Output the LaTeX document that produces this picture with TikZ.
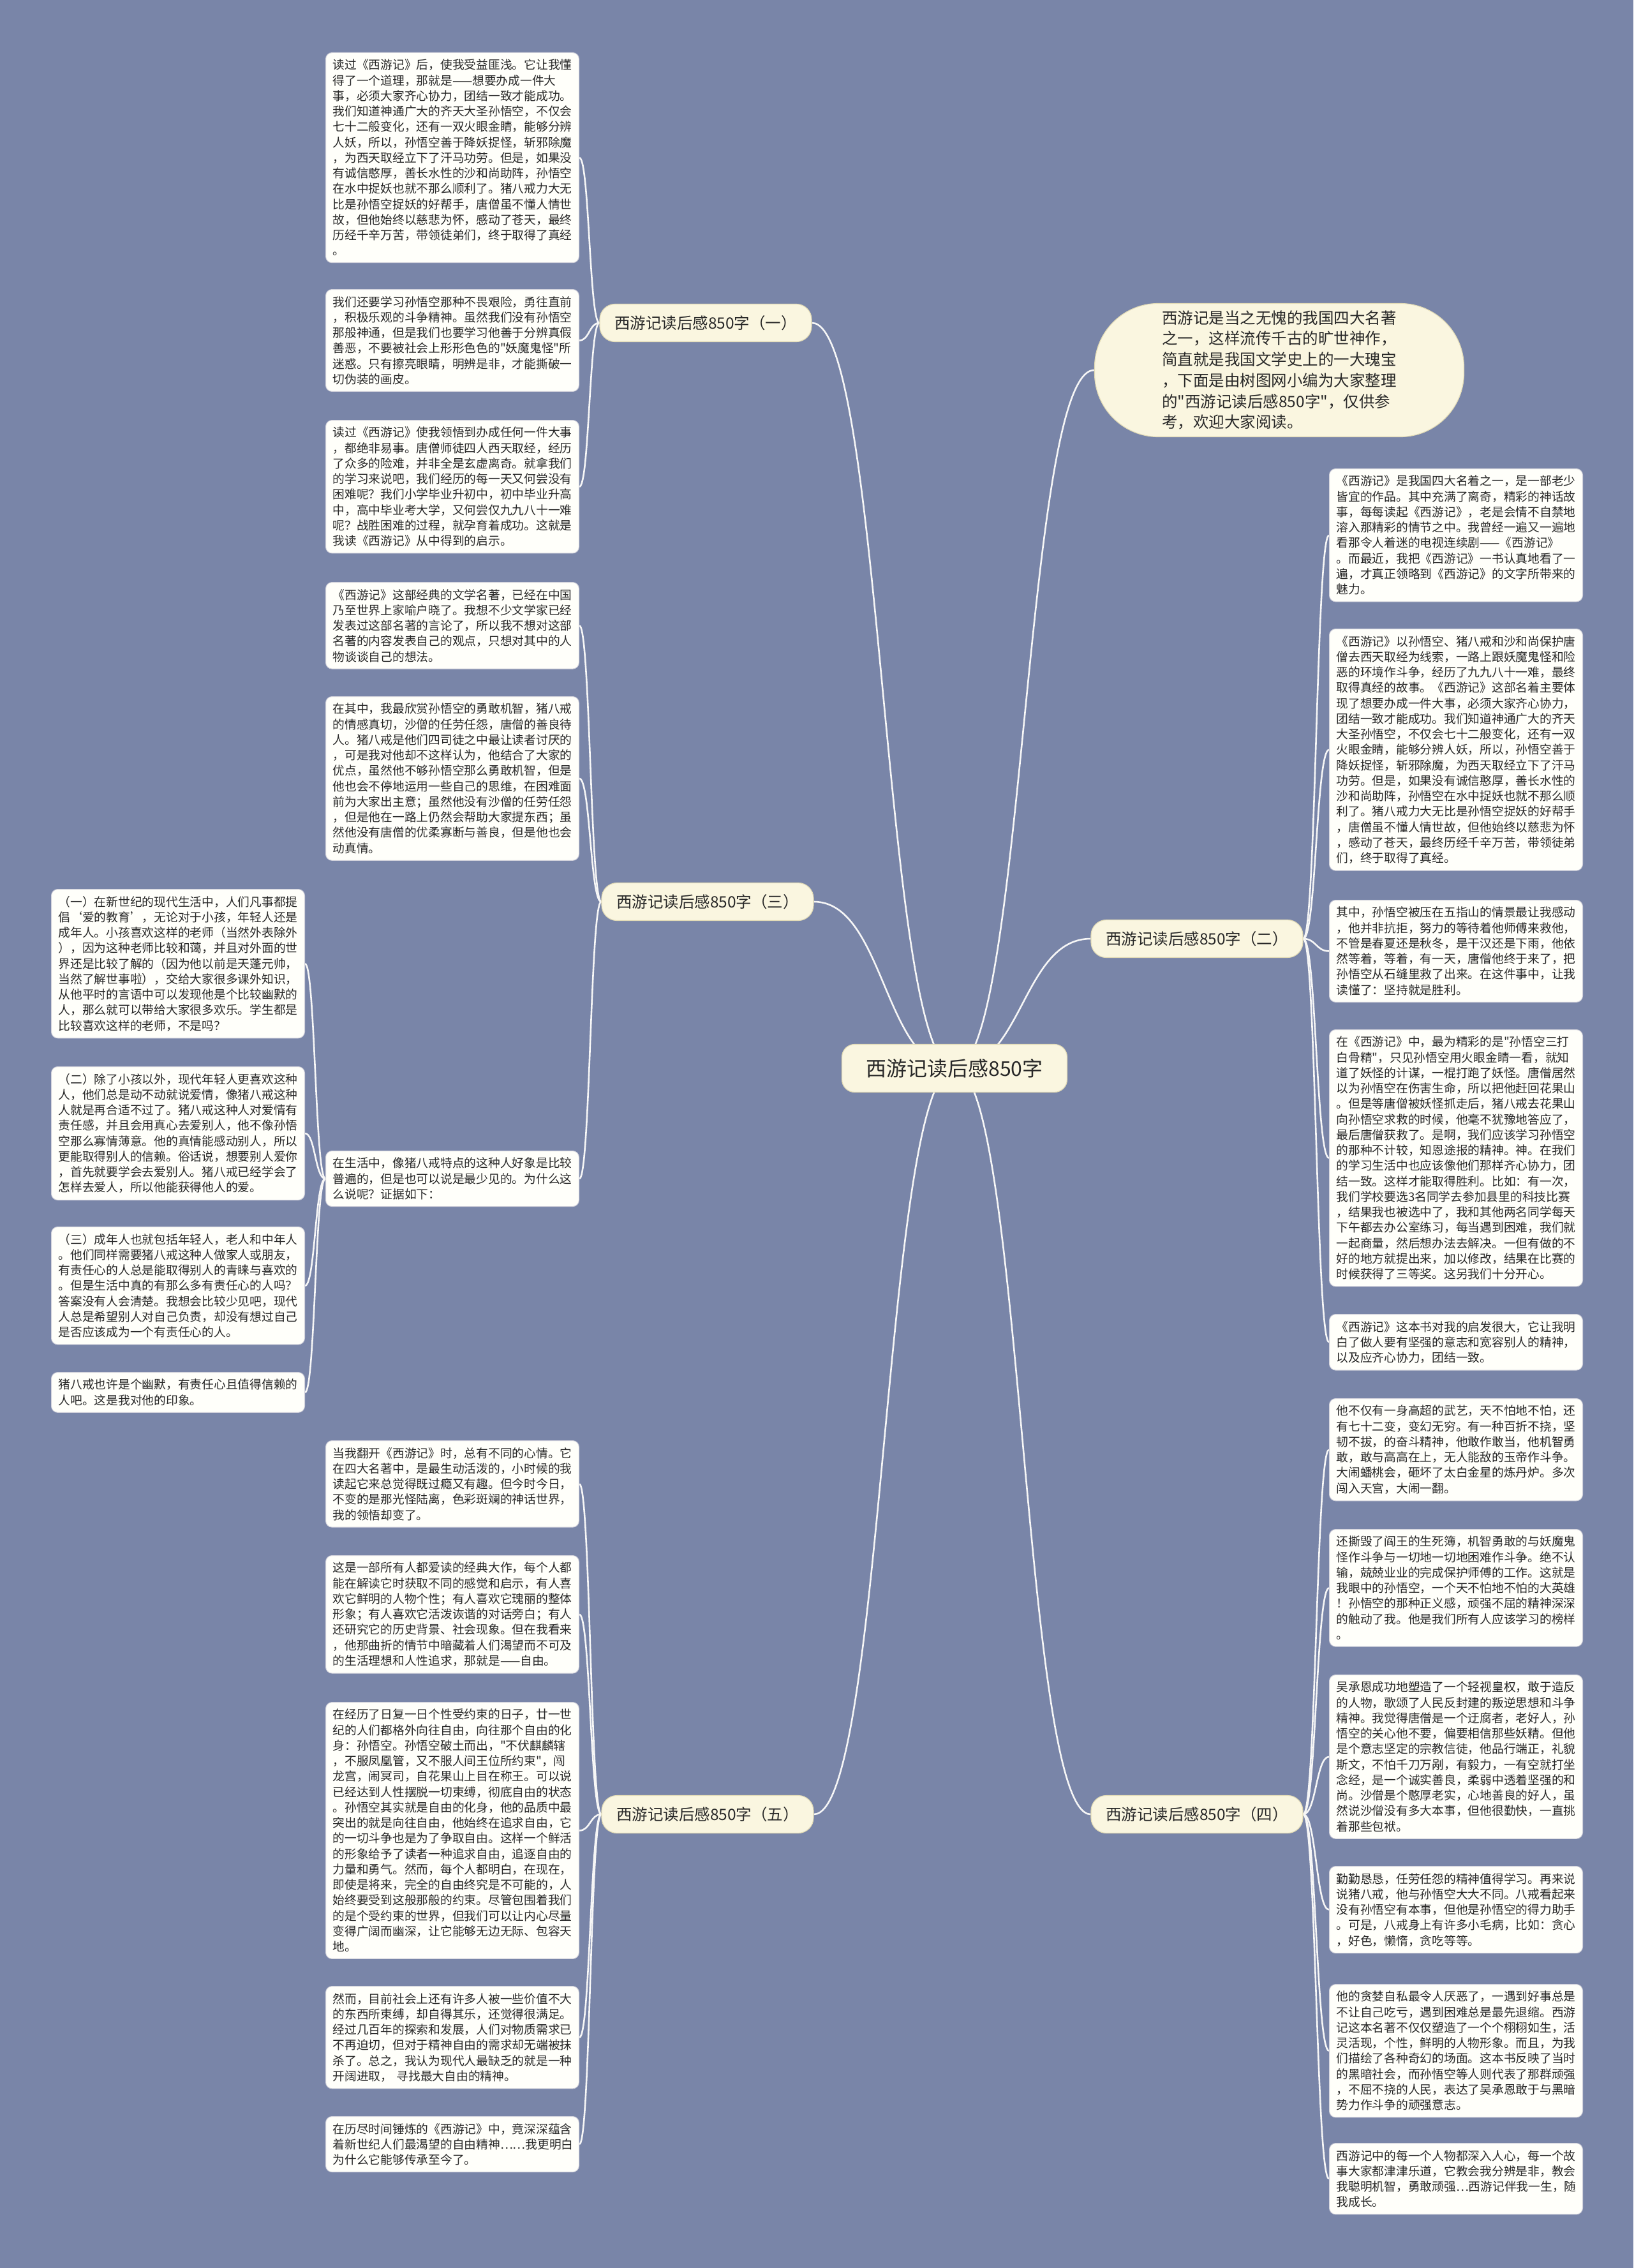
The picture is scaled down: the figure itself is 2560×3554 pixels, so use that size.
\documentclass[tikz,border=0pt]{standalone}
\usepackage{fontspec}
\newfontfamily\cjk{Noto Sans CJK SC}
\usetikzlibrary{calc}
\pgfdeclarelayer{bg}
\pgfdeclarelayer{edges}
\pgfsetlayers{bg,edges,main}
\definecolor{bgc}{RGB}{121,133,168}
\definecolor{leaffill}{RGB}{255,255,250}
\definecolor{leafborder}{RGB}{208,208,218}
\definecolor{cream}{RGB}{250,246,224}
\definecolor{creamborder}{RGB}{226,219,182}
\definecolor{txt}{RGB}{40,40,40}
\definecolor{linec}{RGB}{246,246,246}
\newcommand\leaffont{\cjk\fontsize{9.375pt}{12.125pt}\selectfont}
\newcommand\brfont{\cjk\fontsize{12.25pt}{16pt}\selectfont}
\newcommand\lk[2]{\path (#1) -- coordinate[pos=.5] (mid) (#2); \draw[conn] (#1) .. controls (mid |- #1) and (mid |- #2) .. (#2);}
\tikzset{
  leaf/.style={draw=leafborder, line width=0.5pt, fill=leaffill, rounded corners=5pt, anchor=north west,
    inner xsep=5.5pt, inner ysep=5.3pt, text width=187.5pt, align=left, font=\leaffont, text=txt},
  branch/.style={draw=creamborder, line width=0.6pt, fill=cream, rounded corners=12pt, inner sep=0pt,
    minimum width=166pt, minimum height=29.5pt, font=\brfont, text=txt},
  conn/.style={draw=linec, line width=1.3pt},
}
\begin{document}
\begin{tikzpicture}[x=0.5pt,y=-0.5pt]
\begin{pgfonlayer}{bg}
\fill[bgc] (0,0) rectangle (2560,3554);
\end{pgfonlayer}
\useasboundingbox (0,0) rectangle (2560,3554);

% center and branches
\node[draw=creamborder, line width=0.6pt, fill=cream, rounded corners=10pt, inner sep=0pt,
  minimum width=176.5pt, minimum height=37.5pt, font=\cjk\fontsize{16pt}{20pt}\selectfont, text=txt]
  (c) at (1496,1674) {西游记读后感850字};
\node[branch] (b1) at (1106,506) {西游记读后感850字（一）};
\node[branch] (b3) at (1109,1413) {西游记读后感850字（三）};
\node[branch] (b5) at (1109,2843) {西游记读后感850字（五）};
\node[branch] (b2) at (1876,1471) {西游记读后感850字（二）};
\node[branch] (b4) at (1876,2843) {西游记读后感850字（四）};
\node[draw=creamborder, line width=0.6pt, fill=cream, rounded corners=50pt, inner sep=0pt,
  minimum width=289.5pt, minimum height=104.5pt, align=left,
  font=\cjk\fontsize{12.25pt}{16.35pt}\selectfont, text=txt] (intro) at (2005,580)
 {西游记是当之无愧的我国四大名著\\之一，这样流传千古的旷世神作，\\简直就是我国文学史上的一大瑰宝\\，下面是由树图网小编为大家整理\\的"西游记读后感850字"，仅供参\\考，欢迎大家阅读。};

% left leaves
\node[leaf] (l1) at (510,82) {读过《西游记》后，使我受益匪浅。它让我懂\\得了一个道理，那就是——想要办成一件大\\事，必须大家齐心协力，团结一致才能成功。\\我们知道神通广大的齐天大圣孙悟空，不仅会\\七十二般变化，还有一双火眼金睛，能够分辨\\人妖，所以，孙悟空善于降妖捉怪，斩邪除魔\\，为西天取经立下了汗马功劳。但是，如果没\\有诚信憨厚，善长水性的沙和尚助阵，孙悟空\\在水中捉妖也就不那么顺利了。猪八戒力大无\\比是孙悟空捉妖的好帮手，唐僧虽不懂人情世\\故，但他始终以慈悲为怀，感动了苍天，最终\\历经千辛万苦，带领徒弟们，终于取得了真经\\。};
\node[leaf] (l2) at (510,453) {我们还要学习孙悟空那种不畏艰险，勇往直前\\，积极乐观的斗争精神。虽然我们没有孙悟空\\那般神通，但是我们也要学习他善于分辨真假\\善恶，不要被社会上形形色色的"妖魔鬼怪"所\\迷惑。只有擦亮眼睛，明辨是非，才能撕破一\\切伪装的画皮。};
\node[leaf] (l3) at (510,658) {读过《西游记》使我领悟到办成任何一件大事\\，都绝非易事。唐僧师徒四人西天取经，经历\\了众多的险难，并非全是玄虚离奇。就拿我们\\的学习来说吧，我们经历的每一天又何尝没有\\困难呢？我们小学毕业升初中，初中毕业升高\\中，高中毕业考大学，又何尝仅九九八十一难\\呢？战胜困难的过程，就孕育着成功。这就是\\我读《西游记》从中得到的启示。};
\node[leaf] (l4) at (510,912) {《西游记》这部经典的文学名著，已经在中国\\乃至世界上家喻户晓了。我想不少文学家已经\\发表过这部名著的言论了，所以我不想对这部\\名著的内容发表自己的观点，只想对其中的人\\物谈谈自己的想法。};
\node[leaf] (l5) at (510,1091) {在其中，我最欣赏孙悟空的勇敢机智，猪八戒\\的情感真切，沙僧的任劳任怨，唐僧的善良待\\人。猪八戒是他们四司徒之中最让读者讨厌的\\，可是我对他却不这样认为，他结合了大家的\\优点，虽然他不够孙悟空那么勇敢机智，但是\\他也会不停地运用一些自己的思维，在困难面\\前为大家出主意；虽然他没有沙僧的任劳任怨\\，但是他在一路上仍然会帮助大家提东西；虽\\然他没有唐僧的优柔寡断与善良，但是他也会\\动真情。};
\node[leaf] (l6) at (510,1803) {在生活中，像猪八戒特点的这种人好象是比较\\普遍的，但是也可以说是最少见的。为什么这\\么说呢？证据如下：};
\node[leaf] (f1) at (80,1393) {（一）在新世纪的现代生活中，人们凡事都提\\倡‘爱的教育’，无论对于小孩，年轻人还是\\成年人。小孩喜欢这样的老师（当然外表除外\\），因为这种老师比较和蔼，并且对外面的世\\界还是比较了解的（因为他以前是天蓬元帅，\\当然了解世事啦），交给大家很多课外知识，\\从他平时的言语中可以发现他是个比较幽默的\\人，那么就可以带给大家很多欢乐。学生都是\\比较喜欢这样的老师，不是吗？};
\node[leaf] (f2) at (80,1671) {（二）除了小孩以外，现代年轻人更喜欢这种\\人，他们总是动不动就说爱情，像猪八戒这种\\人就是再合适不过了。猪八戒这种人对爱情有\\责任感，并且会用真心去爱别人，他不像孙悟\\空那么寡情薄意。他的真情能感动别人，所以\\更能取得别人的信赖。俗话说，想要别人爱你\\，首先就要学会去爱别人。猪八戒已经学会了\\怎样去爱人，所以他能获得他人的爱。};
\node[leaf] (f3) at (80,1922) {（三）成年人也就包括年轻人，老人和中年人\\。他们同样需要猪八戒这种人做家人或朋友，\\有责任心的人总是能取得别人的青睐与喜欢的\\。但是生活中真的有那么多有责任心的人吗？\\答案没有人会清楚。我想会比较少见吧，现代\\人总是希望别人对自己负责，却没有想过自己\\是否应该成为一个有责任心的人。};
\node[leaf] (f4) at (80,2150) {猪八戒也许是个幽默，有责任心且值得信赖的\\人吧。这是我对他的印象。};
\node[leaf] (l7) at (510,2257) {当我翻开《西游记》时，总有不同的心情。它\\在四大名著中，是最生动活泼的，小时候的我\\读起它来总觉得既过瘾又有趣。但今时今日，\\不变的是那光怪陆离，色彩斑斓的神话世界，\\我的领悟却变了。};
\node[leaf] (l8) at (510,2437) {这是一部所有人都爱读的经典大作，每个人都\\能在解读它时获取不同的感觉和启示，有人喜\\欢它鲜明的人物个性；有人喜欢它瑰丽的整体\\形象；有人喜欢它活泼诙谐的对话旁白；有人\\还研究它的历史背景、社会现象。但在我看来\\，他那曲折的情节中暗藏着人们渴望而不可及\\的生活理想和人性追求，那就是——自由。};
\node[leaf] (l9) at (510,2667) {在经历了日复一日个性受约束的日子，廿一世\\纪的人们都格外向往自由，向往那个自由的化\\身：孙悟空。孙悟空破土而出，"不伏麒麟辖\\，不服凤凰管，又不服人间王位所约束"，闯\\龙宫，闹冥司，自花果山上目在称王。可以说\\已经达到人性摆脱一切束缚，彻底自由的状态\\。孙悟空其实就是自由的化身，他的品质中最\\突出的就是向往自由，他始终在追求自由，它\\的一切斗争也是为了争取自由。这样一个鲜活\\的形象给予了读者一种追求自由，追逐自由的\\力量和勇气。然而，每个人都明白，在现在，\\即使是将来，完全的自由终究是不可能的，人\\始终要受到这般那般的约束。尽管包围着我们\\的是个受约束的世界，但我们可以让内心尽量\\变得广阔而幽深，让它能够无边无际、包容天\\地。};
\node[leaf] (l10) at (510,3112) {然而，目前社会上还有许多人被一些价值不大\\的东西所束缚，却自得其乐，还觉得很满足。\\经过几百年的探索和发展，人们对物质需求已\\不再迫切，但对于精神自由的需求却无端被抹\\杀了。总之，我认为现代人最缺乏的就是一种\\开阔进取，~寻找最大自由的精神。};
\node[leaf] (l11) at (510,3316) {在历尽时间锤炼的《西游记》中，竟深深蕴含\\着新世纪人们最渴望的自由精神……我更明白\\为什么它能够传承至今了。};

% right leaves
\node[leaf] (r1) at (2083,734) {《西游记》是我国四大名着之一，是一部老少\\皆宜的作品。其中充满了离奇，精彩的神话故\\事，每每读起《西游记》，老是会情不自禁地\\溶入那精彩的情节之中。我曾经一遍又一遍地\\看那令人着迷的电视连续剧——《西游记》\\。而最近，我把《西游记》一书认真地看了一\\遍，才真正领略到《西游记》的文字所带来的\\魅力。};
\node[leaf] (r2) at (2083,985) {《西游记》以孙悟空、猪八戒和沙和尚保护唐\\僧去西天取经为线索，一路上跟妖魔鬼怪和险\\恶的环境作斗争，经历了九九八十一难，最终\\取得真经的故事。《西游记》这部名着主要体\\现了想要办成一件大事，必须大家齐心协力，\\团结一致才能成功。我们知道神通广大的齐天\\大圣孙悟空，不仅会七十二般变化，还有一双\\火眼金睛，能够分辨人妖，所以，孙悟空善于\\降妖捉怪，斩邪除魔，为西天取经立下了汗马\\功劳。但是，如果没有诚信憨厚，善长水性的\\沙和尚助阵，孙悟空在水中捉妖也就不那么顺\\利了。猪八戒力大无比是孙悟空捉妖的好帮手\\，唐僧虽不懂人情世故，但他始终以慈悲为怀\\，感动了苍天，最终历经千辛万苦，带领徒弟\\们，终于取得了真经。};
\node[leaf] (r3) at (2083,1410) {其中，孙悟空被压在五指山的情景最让我感动\\，他并非抗拒，努力的等待着他师傅来救他，\\不管是春夏还是秋冬，是干汉还是下雨，他依\\然等着，等着，有一天，唐僧他终于来了，把\\孙悟空从石缝里救了出来。在这件事中，让我\\读懂了：坚持就是胜利。};
\node[leaf] (r4) at (2083,1613) {在《西游记》中，最为精彩的是"孙悟空三打\\白骨精"，只见孙悟空用火眼金睛一看，就知\\道了妖怪的计谋，一棍打跑了妖怪。唐僧居然\\以为孙悟空在伤害生命，所以把他赶回花果山\\。但是等唐僧被妖怪抓走后，猪八戒去花果山\\向孙悟空求救的时候，他毫不犹豫地答应了，\\最后唐僧获救了。是啊，我们应该学习孙悟空\\的那种不计较，知恩途报的精神。神。在我们\\的学习生活中也应该像他们那样齐心协力，团\\结一致。这样才能取得胜利。比如：有一次，\\我们学校要选3名同学去参加县里的科技比赛\\，结果我也被选中了，我和其他两名同学每天\\下午都去办公室练习，每当遇到困难，我们就\\一起商量，然后想办法去解决。一但有做的不\\好的地方就提出来，加以修改，结果在比赛的\\时候获得了三等奖。这另我们十分开心。};
\node[leaf] (r5) at (2083,2059) {《西游记》这本书对我的启发很大，它让我明\\白了做人要有坚强的意志和宽容别人的精神，\\以及应齐心协力，团结一致。};
\node[leaf] (r6) at (2083,2191) {他不仅有一身高超的武艺，天不怕地不怕，还\\有七十二变，变幻无穷。有一种百折不挠，坚\\韧不拔，的奋斗精神，他敢作敢当，他机智勇\\敢，敢与高高在上，无人能敌的玉帝作斗争。\\大闹蟠桃会，砸坏了太白金星的炼丹炉。多次\\闯入天宫，大闹一翻。};
\node[leaf] (r7) at (2083,2396) {还撕毁了阎王的生死簿，机智勇敢的与妖魔鬼\\怪作斗争与一切地一切地困难作斗争。绝不认\\输，兢兢业业的完成保护师傅的工作。这就是\\我眼中的孙悟空，一个天不怕地不怕的大英雄\\！孙悟空的那种正义感，顽强不屈的精神深深\\的触动了我。他是我们所有人应该学习的榜样\\。};
\node[leaf] (r8) at (2083,2624) {吴承恩成功地塑造了一个轻视皇权，敢于造反\\的人物，歌颂了人民反封建的叛逆思想和斗争\\精神。我觉得唐僧是一个迂腐者，老好人，孙\\悟空的关心他不要，偏要相信那些妖精。但他\\是个意志坚定的宗教信徒，他品行端正，礼貌\\斯文，不怕千刀万剐，有毅力，一有空就打坐\\念经，是一个诚实善良，柔弱中透着坚强的和\\尚。沙僧是个憨厚老实，心地善良的好人，虽\\然说沙僧没有多大本事，但他很勤快，一直挑\\着那些包袱。};
\node[leaf] (r9) at (2083,2924) {勤勤恳恳，任劳任怨的精神值得学习。再来说\\说猪八戒，他与孙悟空大大不同。八戒看起来\\没有孙悟空有本事，但他是孙悟空的得力助手\\。可是，八戒身上有许多小毛病，比如：贪心\\，好色，懒惰，贪吃等等。};
\node[leaf] (r10) at (2083,3109) {他的贪婪自私最令人厌恶了，一遇到好事总是\\不让自己吃亏，遇到困难总是最先退缩。西游\\记这本名著不仅仅塑造了一个个栩栩如生，活\\灵活现，个性，鲜明的人物形象。而且，为我\\们描绘了各种奇幻的场面。这本书反映了当时\\的黑暗社会，而孙悟空等人则代表了那群顽强\\，不屈不挠的人民，表达了吴承恩敢于与黑暗\\势力作斗争的顽强意志。};
\node[leaf] (r11) at (2083,3358) {西游记中的每一个人物都深入人心，每一个故\\事大家都津津乐道，它教会我分辨是非，教会\\我聪明机智，勇敢顽强…西游记伴我一生，随\\我成长。};

% connectors
\begin{pgfonlayer}{edges}
\lk{c.center}{b1.east}
\lk{c.center}{b3.east}
\lk{c.center}{b5.east}
\lk{c.center}{b2.west}
\lk{c.center}{b4.west}
\lk{c.center}{intro.west}
\foreach \t in {l1,l2,l3} {\lk{b1.west}{\t.east}}
\foreach \t in {l4,l5,l6} {\lk{b3.west}{\t.east}}
\foreach \t in {f1,f2,f3,f4} {\lk{l6.west}{\t.east}}
\foreach \t in {l7,l8,l9,l10,l11} {\lk{b5.west}{\t.east}}
\foreach \t in {r1,r2,r3,r4,r5} {\lk{b2.east}{\t.west}}
\foreach \t in {r6,r7,r8,r9,r10,r11} {\lk{b4.east}{\t.west}}
\end{pgfonlayer}
\end{tikzpicture}
\end{document}
